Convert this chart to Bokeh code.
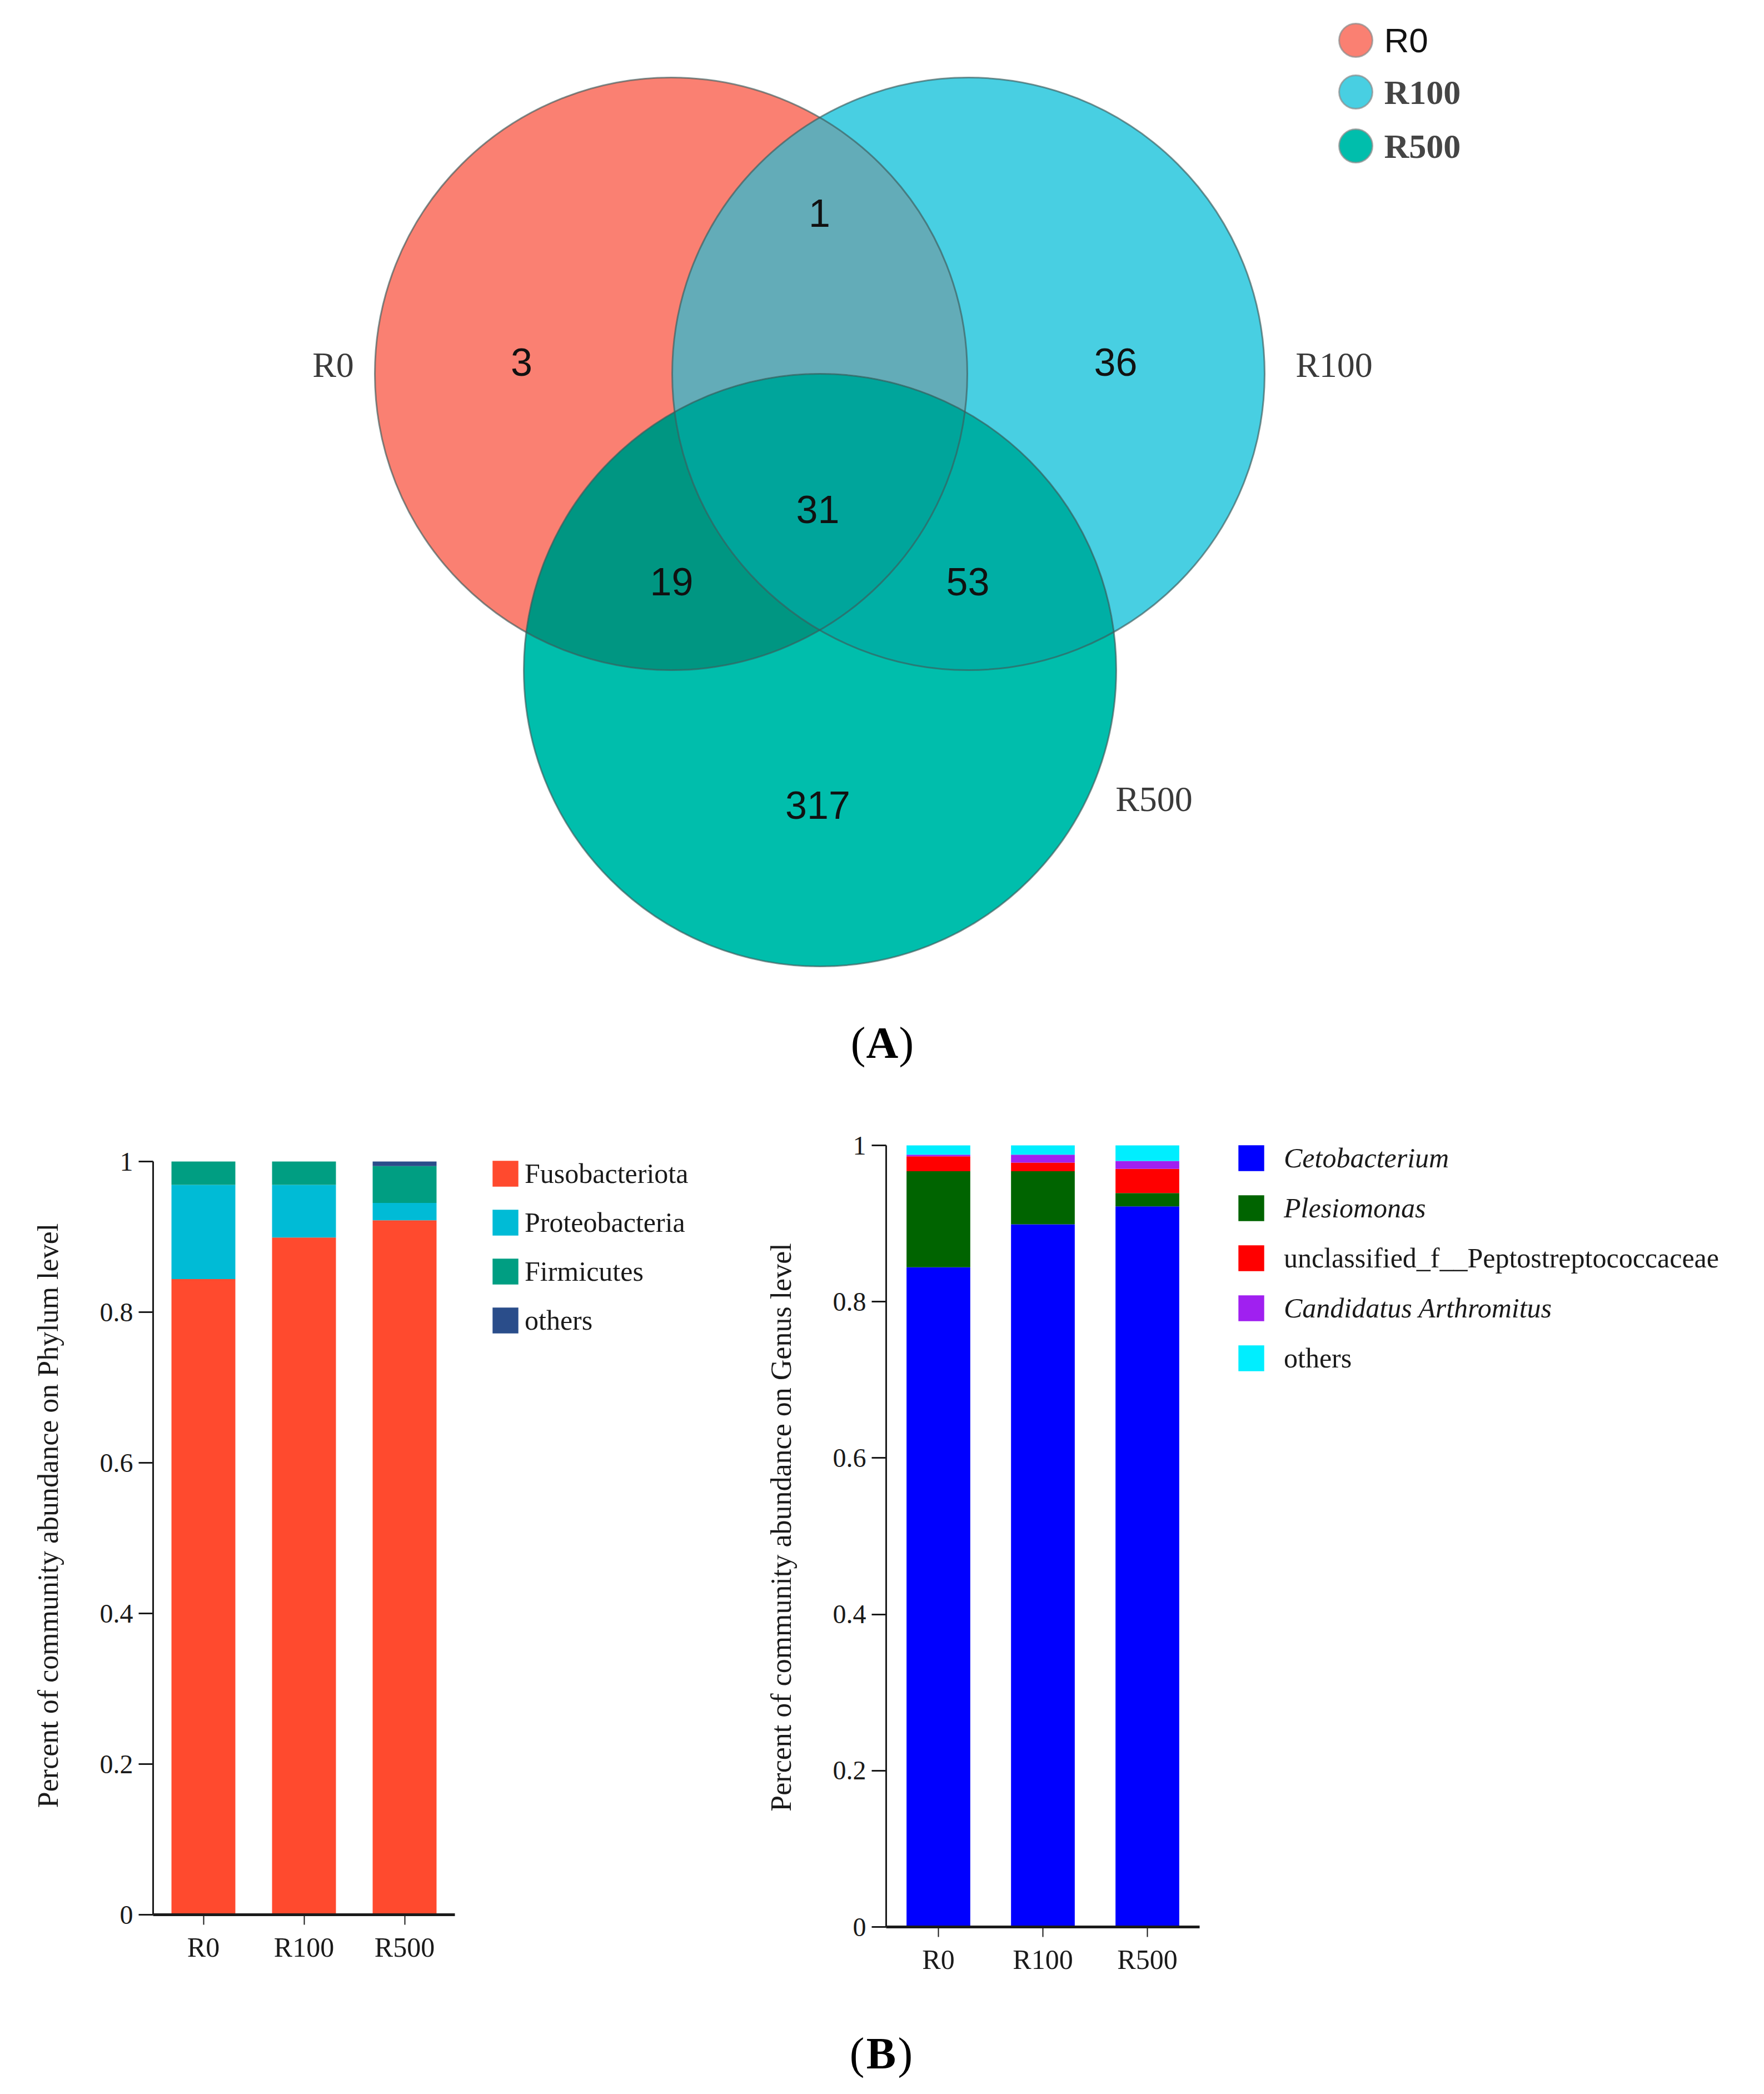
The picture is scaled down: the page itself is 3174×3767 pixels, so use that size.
import numpy as np
from bokeh.plotting import figure
from bokeh.layouts import column, row
from bokeh.models import (Range1d, Legend, LegendItem, Label, FixedTicker, ColumnDataSource,
                          Spacer)
from bokeh.core.properties import value
from bokeh.embed import file_html
from bokeh.resources import INLINE

# ---------------- data ----------------
groups = ["R0", "R100", "R500"]
venn_regions = ["R0", "R100", "R500", "R0&R100", "R0&R500", "R100&R500", "R0&R100&R500"]
venn_counts = [3, 36, 317, 1, 19, 53, 31]

samples = ["R0", "R100", "R500"]
phyla = ["Fusobacteriota", "Proteobacteria", "Firmicutes", "others"]
fuso = [0.844, 0.899, 0.922]
proteo = [0.125, 0.070, 0.023]
firmi = [0.031, 0.031, 0.049]
phy_others = [0.000, 0.000, 0.006]

genera = ["Cetobacterium", "Plesiomonas", "unclassified_f__Peptostreptococcaceae",
          "Candidatus Arthromitus", "others"]
ceto = [0.844, 0.899, 0.922]
plesio = [0.123, 0.068, 0.017]
unclass = [0.019, 0.011, 0.031]
candid = [0.002, 0.010, 0.010]
gen_others = [0.012, 0.012, 0.020]

y_ticks = [0, 0.2, 0.4, 0.6, 0.8, 1]
y_tick_labels = ["0", "0.2", "0.4", "0.6", "0.8", "1"]

# ---------------- styles ----------------
SERIF = "Liberation Serif"
SANS = "Liberation Sans"
INK = "#1a1a1a"
region_colors = ["#FA8072", "#48CFE2", "#00BEAC", "#63ACB8", "#009682", "#00AFA5", "#00A59B"]
phy_colors = ["#FF4A2E", "#00BBD6", "#009E82", "#2A4D8A"]
gen_colors = ["#0000FF", "#006400", "#FF0000", "#A020F0", "#00EEFF"]
gen_styles = ["italic", "italic", "normal", "italic", "normal"]

# ---------------- Venn (A) ----------------
cx = [1215, 1750, 1483]
cy = [680, 680, 1213]
R = 533
region_sets = [[0], [1], [2], [0, 1], [0, 2], [1, 2], [0, 1, 2]]
region_label_pos = [(946, 659), (2015, 659), (1479, 1456), (1482, 391),
                    (1216, 1054), (1749, 1054), (1479, 924)]


def disk_intersection(ids, n=1440):
    t = np.linspace(0, 2 * np.pi, n, endpoint=False)
    xs, ys = [], []
    for i in ids:
        px = cx[i] + R * np.cos(t)
        py = cy[i] + R * np.sin(t)
        ok = np.ones(n, dtype=bool)
        for j in ids:
            if j != i:
                ok &= (px - cx[j]) ** 2 + (py - cy[j]) ** 2 <= R * R + 1e-6
        xs.append(px[ok])
        ys.append(py[ok])
    xs = np.concatenate(xs)
    ys = np.concatenate(ys)
    mx, my = xs.mean(), ys.mean()
    order = np.argsort(np.arctan2(ys - my, xs - mx))
    return xs[order].tolist(), ys[order].tolist()


venn = figure(width=3158, height=1952, x_range=Range1d(8, 3166), y_range=Range1d(1960, 8),
              output_backend="svg", toolbar_location=None, x_axis_location=None,
              y_axis_location=None, min_border=0, outline_line_color=None)
venn.grid.visible = False

polys = [disk_intersection(s) for s in region_sets]
venn.patches(xs=[p[0] for p in polys], ys=[p[1] for p in polys],
             fill_color=region_colors, line_color=None)
venn.circle(x=cx, y=cy, radius=R, fill_color=None, line_color="#3d5a5a",
            line_alpha=0.65, line_width=3)

venn.text(x=[p[0] for p in region_label_pos], y=[p[1] for p in region_label_pos],
          text=[str(c) for c in venn_counts], text_font=value(SANS), text_font_size="70px",
          text_color="#111111", text_align="center", text_baseline="middle")

venn.text(x=[607, 2408, 2084], y=[664, 664, 1445], text=groups, text_font=value(SERIF),
          text_font_size="64px", text_color="#3a3a3a", text_align="center",
          text_baseline="middle")

leg_y = [80, 173, 270]
venn.circle(x=[2447] * 3, y=leg_y, radius=30, fill_color=region_colors[:3],
            line_color="#8a8a8a", line_width=3, line_alpha=0.7)
venn.text(x=[2498] * 3, y=leg_y, text=groups, text_font=[SANS, SERIF, SERIF],
          text_font_style=["normal", "bold", "bold"], text_font_size="62px",
          text_color=["#111111", "#454545", "#454545"], text_align="left",
          text_baseline="middle")

venn.text(x=[1565], y=[1883], text=["("], text_font=value(SERIF), text_font_size="80px",
          text_color="black", text_align="right", text_baseline="middle")
venn.text(x=[1595], y=[1883], text=["A"], text_font=value(SERIF), text_font_size="80px",
          text_font_style="bold", text_color="black", text_align="center",
          text_baseline="middle")
venn.text(x=[1625], y=[1883], text=[")"], text_font=value(SERIF), text_font_size="80px",
          text_color="black", text_align="left", text_baseline="middle")


# ---------------- stacked bars (B) ----------------
x_pos = [i + 0.5 for i in range(len(samples))]
GLYPH = 58            # legend box; Bokeh insets the swatch by 10% on each side
INSET = 0.1 * GLYPH
ITEM_H = 62
TOP_B, BOT_B = 56, 148   # identical borders for both bar panels
SHIFT_B = 20             # panel b sits 20 px lower than panel a


def style_bar_fig(p, ylabel):
    p.grid.visible = False
    p.background_fill_color = "white"
    xa = p.xaxis[0]
    xa.ticker = FixedTicker(ticks=x_pos)
    xa.major_label_overrides = dict(zip(x_pos, samples))
    xa.bounds = (0, len(samples))
    xa.axis_line_width = 5
    xa.axis_line_color = INK
    xa.major_tick_out = 18
    xa.major_tick_in = 0
    xa.major_tick_line_width = 2
    xa.major_tick_line_color = INK
    xa.major_label_standoff = 12
    xa.major_label_text_font = SERIF
    xa.major_label_text_font_size = "50px"
    xa.major_label_text_color = INK
    ya = p.yaxis[0]
    ya.ticker = FixedTicker(ticks=y_ticks)
    ya.major_label_overrides = dict(zip(y_ticks, y_tick_labels))
    ya.bounds = (0, 1)
    ya.axis_line_width = 3
    ya.axis_line_color = INK
    ya.major_tick_out = 26
    ya.major_tick_in = 0
    ya.major_tick_line_width = 3
    ya.major_tick_line_color = INK
    ya.major_label_standoff = 10
    ya.major_label_text_font = SERIF
    ya.major_label_text_font_size = "48px"
    ya.major_label_text_color = INK
    ya.axis_label = ylabel
    ya.axis_label_text_font = SERIF
    ya.axis_label_text_font_size = "52px"
    ya.axis_label_text_font_style = "normal"
    ya.axis_label_text_color = INK
    ya.axis_label_standoff = 62


def add_item_legend(p, label, renderer, vx, vy, standoff, font_style):
    lg = Legend(items=[LegendItem(label=label, renderers=[renderer])], location=(vx, vy),
                padding=0, margin=0, spacing=0, glyph_width=GLYPH, glyph_height=GLYPH,
                label_height=GLYPH, label_standoff=standoff, label_text_font=SERIF,
                label_text_font_size="50px", label_text_font_style=font_style,
                label_text_color=INK, background_fill_alpha=0, border_line_color=None,
                border_line_alpha=0)
    p.add_layout(lg)


# (a) phylum level : 181 px per sample slot, 1355 px per unit of y, y=0 at page row 3452
fa_w, fa_left, fa_h = 1342, 275, 1640
fa = figure(width=fa_w, height=fa_h, x_range=Range1d(0, (fa_w - fa_left) / 181.0),
            y_range=Range1d(0, (fa_h - TOP_B - BOT_B) / 1355.0), output_backend="svg",
            toolbar_location=None, min_border_left=fa_left, min_border_right=0,
            min_border_top=TOP_B, min_border_bottom=BOT_B, outline_line_color=None)
src_a = ColumnDataSource(dict(x=x_pos, Fusobacteriota=fuso, Proteobacteria=proteo,
                              Firmicutes=firmi, others=phy_others))
rs_a = fa.vbar_stack(phyla, x="x", width=0.635, fill_color=phy_colors, line_color=None,
                     source=src_a)
style_bar_fig(fa, "Percent of community abundance on Phylum level")
for k, (name, r) in enumerate(zip(phyla, rs_a)):
    top = 2092 + 88 * k
    add_item_legend(fa, name, r, round(894 - INSET - 283), round(3452 - (top - INSET + ITEM_H)),
                    6, "normal")
fa.add_layout(Label(x=-1.12, y=1.03, text="a", text_font=SERIF, text_font_size="42px",
                    text_font_style="bold", text_color="black", text_align="center",
                    text_baseline="middle"))

# (b) genus level : 188 px per sample slot, 1406 px per unit of y, y=0 at page row 3474
fb_w, fb_left = 1816, 252
fb_h = fa_h + 2 * SHIFT_B - SHIFT_B + 2  # 1662 - 20
fb_h = 3474 + BOT_B - (1960 + SHIFT_B)
fb = figure(width=fb_w, height=fb_h, x_range=Range1d(0, (fb_w - fb_left) / 188.0),
            y_range=Range1d(0, (fb_h - TOP_B - BOT_B) / 1406.0), output_backend="svg",
            toolbar_location=None, min_border_left=fb_left, min_border_right=0,
            min_border_top=TOP_B, min_border_bottom=BOT_B, outline_line_color=None)
src_b = ColumnDataSource(dict(x=x_pos, g0=ceto, g1=plesio, g2=unclass, g3=candid,
                              g4=gen_others))
rs_b = fb.vbar_stack(["g0", "g1", "g2", "g3", "g4"], x="x", width=0.61,
                     fill_color=gen_colors, line_color=None, source=src_b)
style_bar_fig(fb, "Percent of community abundance on Genus level")
for k, (name, r) in enumerate(zip(genera, rs_b)):
    top = 2064 + 90 * k
    add_item_legend(fb, name, r, round(2236 - INSET - 1602),
                    round(3474 - (top - INSET + ITEM_H)), 30, gen_styles[k])
fb.add_layout(Label(x=-1.03, y=1.01, text="b", text_font=SERIF, text_font_size="42px",
                    text_font_style="bold", text_color="black", text_align="center",
                    text_baseline="middle"))

row_bottom = 1960 + SHIFT_B + fb_h

# (B) caption
capb = figure(width=3158, height=3759 - row_bottom, x_range=Range1d(8, 3166),
              y_range=Range1d(3759, row_bottom), output_backend="svg", toolbar_location=None,
              x_axis_location=None, y_axis_location=None, min_border=0,
              outline_line_color=None)
capb.grid.visible = False
capb.text(x=[1563], y=[3701], text=["("], text_font=value(SERIF), text_font_size="80px",
          text_color="black", text_align="right", text_baseline="middle")
capb.text(x=[1593], y=[3701], text=["B"], text_font=value(SERIF), text_font_size="80px",
          text_font_style="bold", text_color="black", text_align="center",
          text_baseline="middle")
capb.text(x=[1623], y=[3701], text=[")"], text_font=value(SERIF), text_font_size="80px",
          text_color="black", text_align="left", text_baseline="middle")

layout = column(venn,
                row(column(fa, spacing=0), column(Spacer(width=fb_w, height=SHIFT_B), fb,
                                                  spacing=0), spacing=0),
                capb, spacing=0)
open("out.html", "w").write(file_html(layout, INLINE))
